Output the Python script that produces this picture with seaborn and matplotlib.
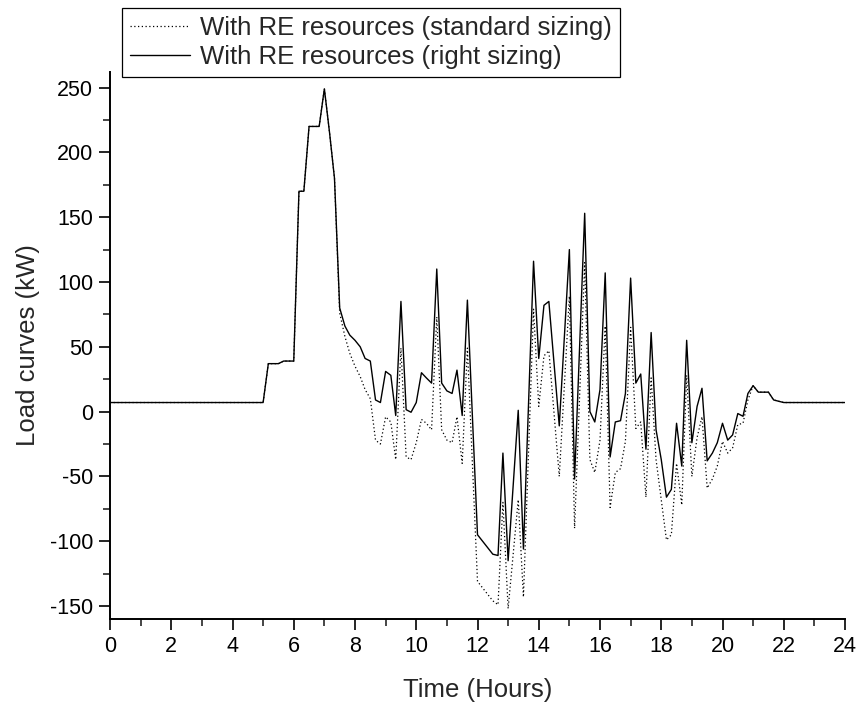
import matplotlib
matplotlib.use("Agg")
import matplotlib.pyplot as plt
import seaborn as sns
import pandas as pd
from matplotlib.ticker import MultipleLocator

# ---- data ----
hours = [0, 5.0, 5.17, 5.5, 5.67, 6.0, 6.17, 6.33, 6.5, 6.83,
         7.0, 7.17, 7.33, 7.5, 7.67, 7.83, 8.0, 8.17, 8.33, 8.5,
         8.67, 8.83, 9.0, 9.17, 9.33, 9.5, 9.67, 9.83, 10.0, 10.17,
         10.33, 10.5, 10.67, 10.83, 11.0, 11.17, 11.33, 11.5, 11.67, 12.0,
         12.5, 12.67, 12.83, 13.0, 13.33, 13.5, 13.83, 14.0, 14.17, 14.33,
         14.67, 15.0, 15.17, 15.5, 15.67, 15.83, 16.0, 16.17, 16.33, 16.5,
         16.67, 16.83, 17.0, 17.17, 17.33, 17.5, 17.67, 17.83, 18.0, 18.17,
         18.33, 18.5, 18.67, 18.83, 19.0, 19.17, 19.33, 19.5, 19.67, 19.83,
         20.0, 20.17, 20.33, 20.5, 20.67, 20.83, 21.0, 21.17, 21.5, 21.67,
         21.83, 22.0, 24.0]

standard_sizing = [7, 7, 37, 37, 39, 39, 170, 170, 220, 220,
                   249, 215, 180, 76, 58, 45, 35, 27, 17, 10,
                   -22, -25, -4, -8, -37, 49, -35, -37, -24, -6,
                   -9, -14, 73, -14, -22, -24, -4, -40, 49, -131,
                   -146, -149, -70, -152, -68, -143, 79, 4, 43, 47,
                   -50, 89, -90, 115, -37, -47, -22, 66, -74, -47,
                   -44, -23, 65, -13, -8, -66, 26, -37, -68, -99,
                   -95, -40, -72, 28, -50, -20, -4, -59, -52, -42,
                   -23, -32, -28, -10, -9, 9, 20, 15, 15, 9,
                   8, 7, 7]

right_sizing = [7, 7, 37, 37, 39, 39, 170, 170, 220, 220,
                249, 215, 180, 80, 66, 59, 55, 50, 41, 39,
                9, 7, 31, 28, -3, 85, 1.5, -0.5, 7, 30,
                26, 22, 110, 22, 16, 14, 32, -3, 86, -95,
                -110, -111, -32, -115, 1, -106, 116, 41, 82, 85,
                -11, 125, -52, 153, 0, -8, 17, 107, -35, -8,
                -7, 14, 103, 22, 29, -29, 61, -14, -37, -66,
                -60, -9, -42, 55, -24, 4, 18, -38, -32, -24,
                -9, -22, -18, -1.5, -3.6, 14, 20, 15, 15, 9,
                8, 7, 7]

labels = ["With RE resources (standard sizing)", "With RE resources (right sizing)"]
x_ticks = [0, 2, 4, 6, 8, 10, 12, 14, 16, 18, 20, 22, 24]
y_ticks = [-150, -100, -50, 0, 50, 100, 150, 200, 250]

sns.set_style("ticks")
plt.rcParams['font.family'] = ['Liberation Sans', 'DejaVu Sans']
plt.rcParams['axes.unicode_minus'] = False

df = pd.DataFrame({"hours": hours, "std": standard_sizing, "right": right_sizing})

fig = plt.figure(figsize=(8.56, 7.02), dpi=100)
ax = fig.add_axes([110 / 856, 83 / 702, 735 / 856, 547 / 702])

sns.lineplot(data=df, x="hours", y="std", ax=ax, color="black",
             linewidth=0.9, linestyle=(0, (1, 2)), label=labels[0])
sns.lineplot(data=df, x="hours", y="right", ax=ax, color="black",
             linewidth=1.0, label=labels[1])

ax.set_xlim(0, 24)
ax.set_ylim(-160, 262)
ax.set_xticks(x_ticks)
ax.set_yticks(y_ticks)
ax.xaxis.set_minor_locator(MultipleLocator(1))
ax.yaxis.set_minor_locator(MultipleLocator(25))
ax.tick_params(axis="both", which="major", direction="out", length=8, width=1.2,
               labelsize=15.5, colors="black", pad=4)
ax.tick_params(axis="both", which="minor", direction="out", length=5, width=1.2)

for s in ["top", "right"]:
    ax.spines[s].set_visible(False)
for s in ["left", "bottom"]:
    ax.spines[s].set_linewidth(1.4)
    ax.spines[s].set_color("black")

ax.set_xlabel("Time (Hours)", fontsize=18.5, labelpad=15)
ax.set_ylabel("Load curves (kW)", fontsize=18.5, labelpad=7)

leg = ax.legend(loc="upper left", bbox_to_anchor=(122 / 856, 1 - 8 / 702),
                bbox_transform=fig.transFigure, frameon=True, fancybox=False,
                edgecolor="black", framealpha=1, borderaxespad=0, fontsize=18.5,
                handlelength=2.35, handletextpad=0.4, labelspacing=0.22,
                borderpad=0.3)
leg.get_frame().set_linewidth(0.9)

fig.savefig("out.png", dpi=100)
